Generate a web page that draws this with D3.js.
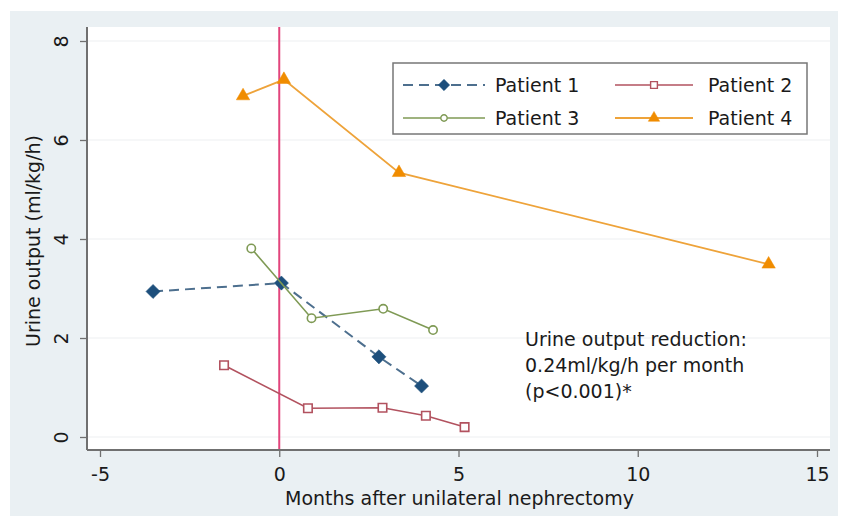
<!DOCTYPE html>
<html>
<head>
<meta charset="utf-8">
<script src="https://cdn.jsdelivr.net/npm/d3@7"></script>
<style>
  html, body { margin: 0; padding: 0; background: #ffffff; }
  svg { display: block; font-family: "DejaVu Sans", sans-serif; }
</style>
</head>
<body>
<svg id="chart" width="842" height="526"></svg>
<script>
// ---- data ----
const seriesNames = ["Patient 1", "Patient 2", "Patient 3", "Patient 4"];
const p1Months = [-3.52, 0.06, 2.78, 3.97];
const p1Urine  = [2.94, 3.11, 1.62, 1.03];
const p2Months = [-1.54, 0.80, 2.88, 4.09, 5.17];
const p2Urine  = [1.45, 0.58, 0.59, 0.43, 0.20];
const p3Months = [-0.78, 0.90, 2.90, 4.29];
const p3Urine  = [3.81, 2.40, 2.59, 2.16];
const p4Months = [-1.01, 0.13, 3.34, 13.65];
const p4Urine  = [6.89, 7.22, 5.34, 3.49];
const xTicks = [-5, 0, 5, 10, 15];
const yTicks = [0, 2, 4, 6, 8];
const xLineAt = 0;
const xTitle = "Months after unilateral nephrectomy";
const yTitle = "Urine output (ml/kg/h)";
const noteLines = ["Urine output reduction:", "0.24ml/kg/h per month", "(p<0.001)*"];

// ---- styles ----
const styles = [
  {line: "#4d6f8e", marker: "diamond", fill: "#1d4f7c", stroke: "#1d4f7c", dash: "10,6", width: 2, size: 100, lsize: 64},
  {line: "#b2525f", marker: "square", fill: "#ffffff", stroke: "#b2525f", dash: null, width: 1.6, size: 72, lsize: 46},
  {line: "#7f9a55", marker: "circle", fill: "#ffffff", stroke: "#7f9a55", dash: null, width: 1.6, size: 55, lsize: 32},
  {line: "#eea33a", marker: "triangle", fill: "#f08c00", stroke: "#f08c00", dash: null, width: 1.8, size: 78, lsize: 56}
];
const symMap = {diamond: d3.symbolSquare, square: d3.symbolSquare, circle: d3.symbolCircle, triangle: d3.symbolTriangle};
const rotMap = {diamond: 45, square: 0, circle: 0, triangle: 0};
const fmt = d => String(d);

const svg = d3.select("#chart");

// graph region
svg.append("rect").attr("x", 10).attr("y", 11).attr("width", 828).attr("height", 505).attr("fill", "#eaf0f3");
// plot region
const plotL = 87, plotR = 830, plotT = 27, plotB = 450;
svg.append("rect").attr("x", plotL).attr("y", plotT).attr("width", plotR - plotL).attr("height", plotB - plotT).attr("fill", "#ffffff");

const x = d3.scaleLinear().domain([-5, 15]).range([100, 817]);
const y = d3.scaleLinear().domain([0, 8]).range([437, 41]);

// gridlines
svg.append("g").selectAll("line").data(yTicks).join("line")
  .attr("x1", plotL).attr("x2", plotR)
  .attr("y1", d => y(d)).attr("y2", d => y(d))
  .attr("stroke", "#edf0f1").attr("stroke-width", 1.2);

// y axis
const yAxis = svg.append("g").attr("transform", `translate(${plotL},0)`)
  .call(d3.axisLeft(y).tickValues(yTicks).tickSize(7).tickPadding(0).tickFormat(fmt));
yAxis.select(".domain").attr("d", `M0,${plotT}V${plotB}`).attr("stroke", "#707070").attr("stroke-width", 2);
yAxis.selectAll(".tick line").attr("stroke", "#707070").attr("stroke-width", 1.3);
yAxis.selectAll(".tick text")
  .attr("x", 0).attr("dy", null).attr("y", 0)
  .attr("transform", "translate(-19,0) rotate(-90)")
  .attr("text-anchor", "middle")
  .attr("font-size", 19).attr("font-family", "DejaVu Sans, sans-serif").attr("fill", "#1a1a1a");

// x axis
const xAxis = svg.append("g").attr("transform", `translate(0,${plotB})`)
  .call(d3.axisBottom(x).tickValues(xTicks).tickSize(7).tickPadding(0).tickFormat(fmt));
xAxis.select(".domain").attr("d", `M${plotL},0H${plotR}`).attr("stroke", "#707070").attr("stroke-width", 2);
xAxis.selectAll(".tick line").attr("stroke", "#707070").attr("stroke-width", 1.3);
xAxis.selectAll(".tick text")
  .attr("y", 31).attr("dy", null)
  .attr("font-size", 19).attr("font-family", "DejaVu Sans, sans-serif").attr("fill", "#1a1a1a");

// axis titles
svg.append("text").attr("x", (plotL + plotR) / 2 + 1).attr("y", 505)
  .attr("text-anchor", "middle").attr("font-size", 19).attr("fill", "#1a1a1a").text(xTitle);
svg.append("text").attr("transform", `translate(40,${(y(0) + y(8)) / 2 + 2}) rotate(-90)`)
  .attr("text-anchor", "middle").attr("font-size", 19).attr("fill", "#1a1a1a").text(yTitle);

// vertical reference line
svg.append("line").attr("x1", x(xLineAt)).attr("x2", x(xLineAt))
  .attr("y1", plotT).attr("y2", plotB - 1)
  .attr("stroke", "#e2457c").attr("stroke-width", 2);

// series
const allMonths = [p1Months, p2Months, p3Months, p4Months];
const allUrine = [p1Urine, p2Urine, p3Urine, p4Urine];
const line = d3.line().x(d => x(d[0])).y(d => y(d[1]));

allMonths.forEach((months, i) => {
  const pts = months.map((m, j) => [m, allUrine[i][j]]);
  const st = styles[i];
  const g = svg.append("g");
  g.append("path").datum(pts).attr("d", line)
    .attr("fill", "none").attr("stroke", st.line).attr("stroke-width", st.width)
    .attr("stroke-dasharray", st.dash);
  g.selectAll("path.pt").data(pts).join("path").attr("class", "pt")
    .attr("transform", d => `translate(${x(d[0])},${y(d[1])}) rotate(${rotMap[st.marker]})`)
    .attr("d", d3.symbol().type(symMap[st.marker]).size(st.size))
    .attr("fill", st.fill).attr("stroke", st.stroke).attr("stroke-width", st.fill === "#ffffff" ? 1.6 : 0.5);
});

// annotation
const note = svg.append("text").attr("font-size", 19).attr("fill", "#1a1a1a");
noteLines.forEach((t, i) => {
  note.append("tspan").attr("x", 525).attr("y", 346 + i * 26).text(t);
});

// legend
const lg = svg.append("g");
lg.append("rect").attr("x", 393).attr("y", 63).attr("width", 414).attr("height", 71)
  .attr("fill", "#ffffff").attr("stroke", "#777777").attr("stroke-width", 1.5);
const legendCols = [{x1: 403, x2: 485, tx: 495}, {x1: 615, x2: 693, tx: 708}];
const legendRows = [85, 118];
seriesNames.forEach((name, i) => {
  const c = legendCols[i % 2], r = legendRows[Math.floor(i / 2)];
  const st = styles[i];
  lg.append("line").attr("x1", c.x1).attr("x2", c.x2).attr("y1", r).attr("y2", r)
    .attr("stroke", st.line).attr("stroke-width", st.width).attr("stroke-dasharray", st.dash);
  lg.append("path").attr("transform", `translate(${(c.x1 + c.x2) / 2},${r}) rotate(${rotMap[st.marker]})`)
    .attr("d", d3.symbol().type(symMap[st.marker]).size(st.lsize))
    .attr("fill", st.fill).attr("stroke", st.stroke).attr("stroke-width", st.fill === "#ffffff" ? 1.4 : 0.5);
  lg.append("text").attr("x", c.tx).attr("y", r + 7).attr("font-size", 19).attr("fill", "#1a1a1a").text(name);
});
</script>
</body>
</html>
